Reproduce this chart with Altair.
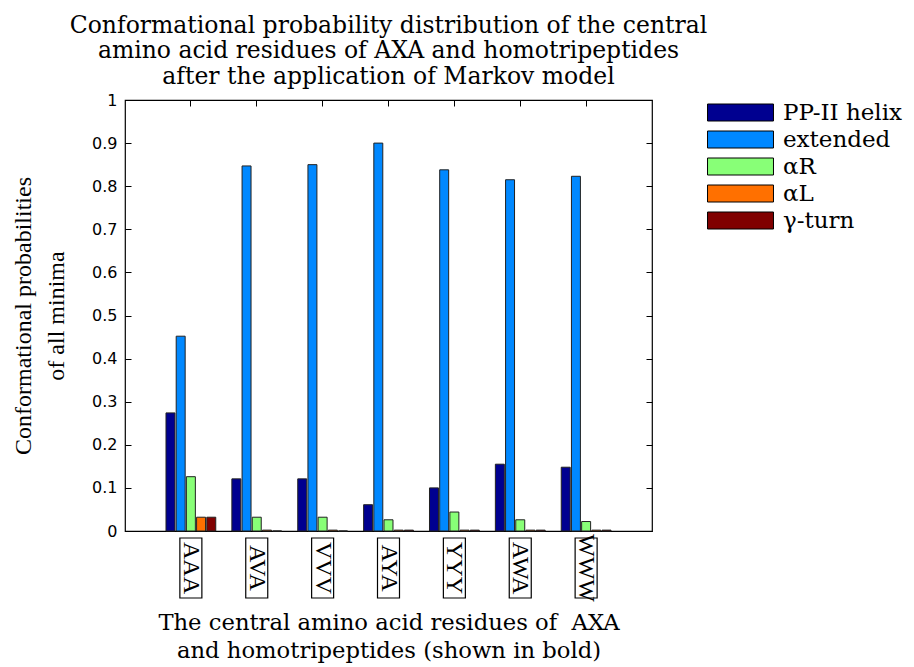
import altair as alt
import pandas as pd

cats = ["AAA", "AVA", "VVV", "AYA", "YYY", "AWA", "WWW"]
series = ["PP-II helix", "extended", "αR", "αL", "γ-turn"]
colors = ["#000090", "#0088FF", "#88FF77", "#FF7000", "#800000"]

pp2 = [0.274, 0.121, 0.121, 0.061, 0.100, 0.155, 0.148]
ext = [0.452, 0.847, 0.850, 0.900, 0.838, 0.815, 0.823]
a_r = [0.126, 0.032, 0.032, 0.026, 0.044, 0.026, 0.022]
a_l = [0.032, 0.002, 0.002, 0.002, 0.002, 0.002, 0.002]
gam = [0.032, 0.000, 0.000, 0.002, 0.002, 0.002, 0.002]

y_ticks = [0, 0.1, 0.2, 0.3, 0.4, 0.5, 0.6, 0.7, 0.8, 0.9, 1]

rows = []
for s, vals in zip(series, [pp2, ext, a_r, a_l, gam]):
    for c, v in zip(cats, vals):
        rows.append({"cat": c, "series": s, "value": v})
df = pd.DataFrame(rows)
cat_df = pd.DataFrame({"cat": cats})

W, H = 527, 431
SERIF = "Liberation Serif"
WIDE = "DejaVu Serif"

xscale = alt.Scale(domain=cats, paddingInner=0, paddingOuter=0.5)
yscale = alt.Scale(domain=[0, 1], nice=False)

bars = alt.Chart(df).mark_bar(stroke="#222222", strokeWidth=1).encode(
    x=alt.X("cat:N", scale=xscale, sort=cats,
            axis=alt.Axis(orient="bottom", labels=False, ticks=False, domain=False,
                          title=["The central amino acid residues of \u00a0AXA",
                                 "and homotripeptides (shown in bold)"],
                          titleFont=WIDE, titleFontSize=22.7, titleFontWeight="normal",
                          titleLineHeight=28, titleColor="black",
                          titleX=W / 2, titleY=98, titleAlign="center",
                          titleBaseline="alphabetic")),
    xOffset=alt.XOffset("series:N", sort=series,
                        scale=alt.Scale(paddingInner=0.12, paddingOuter=0.79)),
    y=alt.Y("value:Q", scale=yscale,
            axis=alt.Axis(orient="left", values=y_ticks, format="~g", domain=False,
                          grid=False, tickSize=6, offset=-6, tickColor="black",
                          labelFont="DejaVu Sans", labelFontSize=16, labelColor="black",
                          labelPadding=8,
                          title=["Conformational probabilities", "of all minima"],
                          titleFont=SERIF, titleFontSize=24, titleFontWeight="normal",
                          titleLineHeight=33, titleColor="black",
                          titleX=-101, titleY=H / 2, titleAlign="center",
                          titleBaseline="alphabetic", titleAngle=-90)),
    color=alt.Color("series:N", sort=series,
                    scale=alt.Scale(domain=series, range=colors),
                    legend=alt.Legend(title=None, orient="none", legendX=604, legendY=1,
                                      symbolType="M-3.88,-1H3.88V1H-3.88Z",
                                      symbolSize=289, symbolStrokeColor="black",
                                      symbolStrokeWidth=1, symbolOpacity=1,
                                      labelFont=WIDE, labelFontSize=23,
                                      labelColor="black", labelOffset=31,
                                      rowPadding=3, padding=0)),
)

right_ticks = alt.Chart(df).mark_bar(opacity=0).encode(
    x=alt.X("cat:N", scale=xscale, sort=cats, axis=None),
    y=alt.Y("value:Q", scale=yscale,
            axis=alt.Axis(orient="right", values=y_ticks, labels=False, domain=False,
                          grid=False, tickSize=6, offset=-6, tickColor="black",
                          title=None)),
)

boxes = alt.Chart(cat_df).mark_bar(width=22, fillOpacity=0, stroke="black",
                                   strokeWidth=1.2).encode(
    x=alt.X("cat:N", scale=xscale, sort=cats,
            axis=alt.Axis(orient="top", labels=False, domain=False, ticks=True,
                          tickSize=6, offset=-6, tickColor="black", title=None)),
    y=alt.value(H + 7),
    y2=alt.value(H + 67),
)

labels = alt.Chart(cat_df).mark_text(angle=90, font=SERIF, fontSize=24,
                                     color="black", baseline="middle",
                                     align="center").encode(
    x=alt.X("cat:N", scale=xscale, sort=cats, axis=None),
    y=alt.value(H + 37),
    text="cat:N",
)

chart = alt.layer(bars, right_ticks, boxes, labels).resolve_axis(
    x="independent", y="independent"
).properties(
    width=W, height=H,
    background="white",
    padding={"left": 125, "top": 100, "right": 914 - 125 - W, "bottom": 667 - 100 - H},
    autosize=alt.AutoSizeParams(type="none"),
    title=alt.Title(
        text=["Conformational probability distribution of the central",
              "amino acid residues of AXA and homotripeptides",
              "after the application of Markov model"],
        font=WIDE, fontSize=23.5, fontWeight="normal", lineHeight=25.5,
        color="black", anchor="middle", offset=4),
).configure_view(stroke="black", strokeWidth=1.2)

chart.save("out.html", embed_options={"renderer": "svg", "actions": False})
